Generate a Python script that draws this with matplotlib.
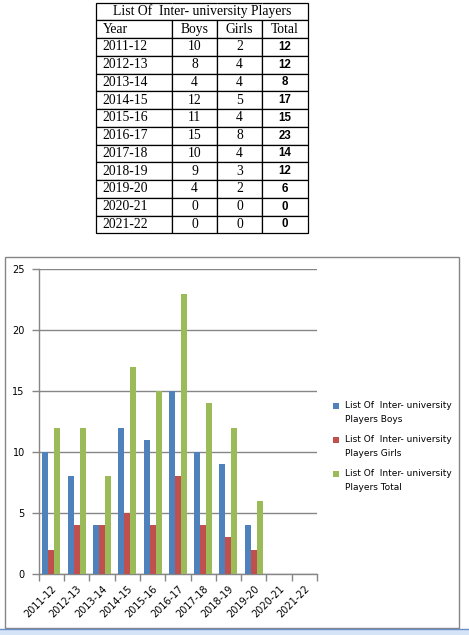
import matplotlib
matplotlib.use("Agg")
import matplotlib.pyplot as plt
import numpy as np
from matplotlib.patches import Rectangle
from matplotlib.lines import Line2D
from matplotlib.legend_handler import HandlerPatch
from matplotlib.container import BarContainer

# ---- data ----
title = "List Of  Inter- university Players"
years = ["2011-12", "2012-13", "2013-14", "2014-15", "2015-16", "2016-17",
         "2017-18", "2018-19", "2019-20", "2020-21", "2021-22"]
boys = [10, 8, 4, 12, 11, 15, 10, 9, 4, 0, 0]
girls = [2, 4, 4, 5, 4, 8, 4, 3, 2, 0, 0]
total = [12, 12, 8, 17, 15, 23, 14, 12, 6, 0, 0]
headers = ["Year", "Boys", "Girls", "Total"]
series_names = ["Boys", "Girls", "Total"]
colors = ["#4F81BD", "#C0504D", "#9BBB59"]
yticks = [0, 5, 10, 15, 20, 25]

W, H = 469, 635
fig = plt.figure(figsize=(W / 100, H / 100), dpi=100)
fig.patch.set_facecolor("white")

def fx(px):
    return px / W

def fy(py):
    return (H - py) / H

# ---- table ----
tl, tr, tt, tb = 96, 308, 2.5, 233.3
tax = fig.add_axes([fx(tl), fy(tb), fx(tr - tl), (tb - tt) / H])
tax.axis("off")
rows = [["", "", "", ""], headers] + [[y, str(b), str(g), str(t)]
                                      for y, b, g, t in zip(years, boys, girls, total)]
colw = np.array([172 - 96, 217 - 172, 262 - 217, 308 - 262], dtype=float)
colw = colw / colw.sum()
tbl = tax.table(cellText=rows, cellLoc="center", colWidths=list(colw),
                bbox=[0, 0, 1, 1])
tbl.auto_set_font_size(False)
nrows = len(rows)
for (r, c), cell in tbl.get_celld().items():
    cell.set_linewidth(0.9)
    cell.set_edgecolor("black")
    txt = cell.get_text()
    if r == 0:
        cell.visible_edges = {0: "BTL", 3: "BTR"}.get(c, "BT")
    if c == 0:
        txt.set_horizontalalignment("left")
        cell.PAD = 0.085
    if r >= 2 and c == 3:
        txt.set_fontfamily("Liberation Sans")
        txt.set_fontweight("bold")
        txt.set_fontsize(8.3)
    else:
        txt.set_fontfamily("Liberation Serif")
        txt.set_fontsize(9.8)
tax.text(0.5, 1 - 0.5 / nrows, title, transform=tax.transAxes, ha="center",
         va="center", fontfamily="Liberation Serif", fontsize=9.8)

# ---- outer chart frame ----
fig.add_artist(Rectangle((fx(5), fy(628)), fx(459 - 5), (628 - 257) / H,
                         transform=fig.transFigure, facecolor="none",
                         edgecolor="#868686", linewidth=1.0))
# bottom strip
fig.add_artist(Rectangle((0, 0), 1, (H - 629) / H, transform=fig.transFigure,
                         facecolor="#D6E4F8", edgecolor="none", zorder=5))
fig.add_artist(Line2D([0, 1], [fy(629), fy(629)], transform=fig.transFigure,
                      color="#6D8FC5", linewidth=1.0, zorder=6))

# ---- bar chart ----
al, ar, at, ab = 38.7, 317, 269.3, 574
ax = fig.add_axes([fx(al), fy(ab), fx(ar - al), (ab - at) / H])
x = np.arange(len(years))
w = 0.237
data = [boys, girls, total]
labels = [f"List Of  Inter- university\nPlayers {n}" for n in series_names]
for i, (vals, col, lab) in enumerate(zip(data, colors, labels)):
    ax.bar(x + (i - 1) * w, vals, width=w, color=col, label=lab, zorder=3)

ax.set_xlim(-0.5, len(years) - 0.5)
ax.set_ylim(0, 25)
ax.set_yticks(yticks)
ax.set_yticklabels([str(v) for v in yticks], fontsize=7, fontfamily="DejaVu Sans")
ax.yaxis.grid(True, color="#868686", linewidth=1.0, zorder=0)
ax.set_axisbelow(True)
for s in ["top", "right"]:
    ax.spines[s].set_visible(False)
for s in ["left", "bottom"]:
    ax.spines[s].set_color("#868686")
    ax.spines[s].set_linewidth(1.0)
ax.set_xticks(np.arange(-0.5, len(years), 1.0))
ax.set_xticklabels([])
ax.set_xticks(x, minor=True)
ax.set_xticklabels(years, minor=True, rotation=45, ha="right",
                   rotation_mode="anchor", fontsize=7, fontfamily="DejaVu Sans")
ax.tick_params(axis="x", which="major", direction="out", length=5,
               color="#868686", width=1.0)
ax.tick_params(axis="x", which="minor", length=0, pad=7)
ax.tick_params(axis="y", direction="out", length=5, color="#868686", width=1.0,
               pad=5)

# legend marker aligned with the first text line
SQ = 4.3  # points
SHIFT = 4.8  # points upward


def square(legend, orig_handle, xdescent, ydescent, width, height, fontsize):
    return Rectangle((-xdescent + (width - SQ) / 2,
                      -ydescent + (height - SQ) / 2 + SHIFT), SQ, SQ)


handler = HandlerPatch(patch_func=square,
                       update_func=lambda h, o: h.update_from(o.patches[0]))
leg = fig.legend(loc="upper left", bbox_to_anchor=(fx(333), fy(401.5)),
                 bbox_transform=fig.transFigure, frameon=False,
                 prop={"family": "DejaVu Sans", "size": 6.5},
                 handlelength=0.75, handleheight=0.75, handletextpad=0.55,
                 labelspacing=1.27, borderaxespad=0, borderpad=0,
                 handler_map={BarContainer: handler})
for t in leg.get_texts():
    t.set_linespacing(1.63)

fig.savefig("out.png", dpi=100)
